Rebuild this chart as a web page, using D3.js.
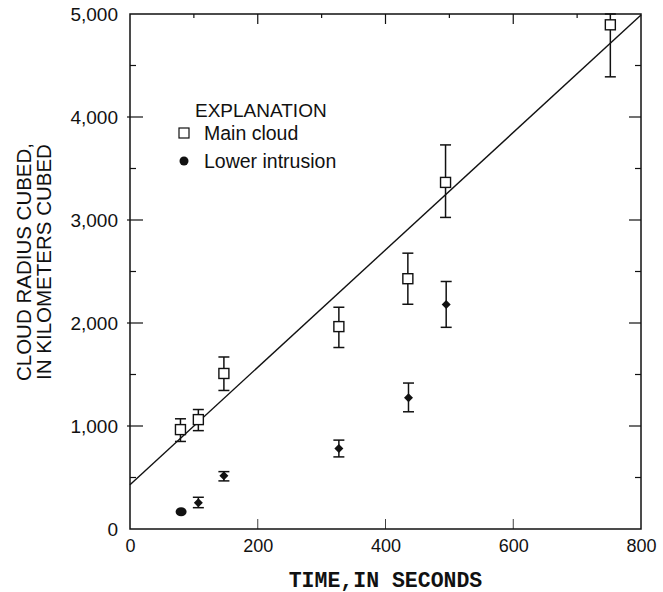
<!DOCTYPE html>
<html>
<head>
<meta charset="utf-8">
<script src="https://cdn.jsdelivr.net/npm/d3@7"></script>
<style>
  body { margin: 0; background: #fff; }
  svg text { font-family: "Liberation Sans", Arial, sans-serif; fill: #111; }
</style>
</head>
<body>
<div class="chart"></div>
<script>
// main cloud (open squares) with error bars
var mainTime = [79, 107, 147, 327, 435, 494, 752];
var mainValue = [965, 1062, 1510, 1965, 2430, 3365, 4895];
var mainLow = [850, 955, 1345, 1762, 2182, 3025, 4390];
var mainHigh = [1070, 1160, 1670, 2153, 2678, 3729, 5000];

// lower intrusion (filled), first point has no error bar
var lowerTime = [80, 107, 147, 327, 436, 495];
var lowerValue = [168, 256, 516, 781, 1274, 2179];
var lowerLow = [null, 207, 467, 700, 1138, 1958];
var lowerHigh = [null, 308, 557, 863, 1417, 2403];

// fitted line
var fitTime = [0, 800];
var fitValue = [430, 4990];

var xTicks = [0, 200, 400, 600, 800];
var yTicks = [0, 1000, 2000, 3000, 4000, 5000];

var width = 663, height = 592;
var plotLeft = 130, plotRight = 641, plotTop = 14, plotBottom = 529;

var svg = d3.select('.chart').append('svg')
  .attr('width', width).attr('height', height);

var xScale = d3.scaleLinear().domain([0, 800]).range([plotLeft, plotRight]);
var yScale = d3.scaleLinear().domain([0, 5000]).range([plotBottom, plotTop]);

var ink = '#111';

// frame
svg.append('rect')
  .attr('x', plotLeft).attr('y', plotTop)
  .attr('width', plotRight - plotLeft).attr('height', plotBottom - plotTop)
  .attr('fill', 'none').attr('stroke', ink).attr('stroke-width', 1.5);

// bottom axis (labels + small inward ticks)
var xAxis = d3.axisBottom(xScale).tickValues(xTicks).tickSize(0).tickPadding(10)
  .tickFormat(d3.format(','));
var xg = svg.append('g').attr('transform', 'translate(0,' + plotBottom + ')').call(xAxis);
xg.select('.domain').remove();
xg.selectAll('text').style('font-size', '18px');

svg.selectAll('.xtickb').data([200, 400, 600]).enter().append('line')
  .attr('x1', function(d){ return xScale(d); }).attr('x2', function(d){ return xScale(d); })
  .attr('y1', plotBottom).attr('y2', plotBottom - 10)
  .attr('stroke', ink).attr('stroke-width', 0.8);

// top ticks: 200s long, 100s short
svg.selectAll('.xtickt').data(d3.range(100, 800, 100)).enter().append('line')
  .attr('x1', function(d){ return xScale(d); }).attr('x2', function(d){ return xScale(d); })
  .attr('y1', plotTop).attr('y2', function(d){ return plotTop + (d % 200 === 0 ? 10 : 4); })
  .attr('stroke', ink).attr('stroke-width', 1.2);

// left axis
var yAxis = d3.axisLeft(yScale).tickValues(yTicks).tickSize(0).tickPadding(12)
  .tickFormat(d3.format(','));
var yg = svg.append('g').attr('transform', 'translate(' + plotLeft + ',0)').call(yAxis);
yg.select('.domain').remove();
yg.selectAll('text').style('font-size', '19px');

svg.selectAll('.ytickl').data(d3.range(500, 5000, 500)).enter().append('line')
  .attr('x1', function(d){ return d % 1000 === 0 ? plotLeft - 3 : plotLeft; })
  .attr('x2', function(d){ return plotLeft + (d % 1000 === 0 ? 13 : 6); })
  .attr('y1', function(d){ return yScale(d); }).attr('y2', function(d){ return yScale(d); })
  .attr('stroke', ink).attr('stroke-width', 1.2);

// right ticks
svg.selectAll('.ytickr').data(d3.range(500, 5000, 500)).enter().append('line')
  .attr('x1', plotRight)
  .attr('x2', function(d){ return plotRight - (d % 1000 === 0 ? 12 : 6); })
  .attr('y1', function(d){ return yScale(d); }).attr('y2', function(d){ return yScale(d); })
  .attr('stroke', ink).attr('stroke-width', 1.2);

// axis titles
svg.append('text')
  .attr('x', (plotLeft + plotRight) / 2).attr('y', 587)
  .attr('text-anchor', 'middle')
  .style('font-family', '"Liberation Mono", "DejaVu Sans Mono", monospace')
  .style('font-weight', 'bold').style('font-size', '21.5px')
  .text('TIME,IN SECONDS');

var yTitle = svg.append('text')
  .attr('transform', 'translate(0,' + 262 + ') rotate(-90)')
  .attr('text-anchor', 'middle')
  .style('font-size', '20.5px');
yTitle.append('tspan').attr('x', 0).attr('y', 31).text('CLOUD RADIUS CUBED,');
yTitle.append('tspan').attr('x', 0).attr('y', 51).text('IN KILOMETERS CUBED');

// fit line
var line = d3.line()
  .x(function(d){ return xScale(d[0]); })
  .y(function(d){ return yScale(d[1]); });
svg.append('path')
  .datum(d3.zip(fitTime, fitValue))
  .attr('d', line)
  .attr('fill', 'none').attr('stroke', ink).attr('stroke-width', 1.4);

// error bars
function errorBars(times, lows, highs) {
  var g = svg.append('g').attr('stroke', ink).attr('stroke-width', 1.5);
  times.forEach(function(t, i) {
    if (lows[i] == null) return;
    var x = xScale(t);
    g.append('line').attr('x1', x).attr('x2', x)
      .attr('y1', yScale(lows[i])).attr('y2', yScale(highs[i]));
    [lows[i], highs[i]].forEach(function(v) {
      g.append('line').attr('x1', x - 5.5).attr('x2', x + 5.5)
        .attr('y1', yScale(v)).attr('y2', yScale(v));
    });
  });
}
errorBars(mainTime, mainLow, mainHigh);
errorBars(lowerTime, lowerLow, lowerHigh);

// main cloud squares
svg.selectAll('.sq').data(d3.zip(mainTime, mainValue)).enter().append('rect')
  .attr('x', function(d){ return xScale(d[0]) - 5; })
  .attr('y', function(d){ return yScale(d[1]) - 5; })
  .attr('width', 10).attr('height', 10)
  .attr('fill', '#fff').attr('stroke', ink).attr('stroke-width', 1.4);

// lower intrusion: first as dot, others as small diamonds
var lowerPts = d3.zip(lowerTime, lowerValue);
svg.selectAll('.lo').data(lowerPts).enter().append('path')
  .attr('transform', function(d){ return 'translate(' + xScale(d[0]) + ',' + yScale(d[1]) + ')'; })
  .attr('d', function(d, i){
    return i === 0 ? 'M-5.5,0A5.5,4.5 0 1,0 5.5,0A5.5,4.5 0 1,0 -5.5,0Z' : 'M0,-4.5L4.5,0L0,4.5L-4.5,0Z';
  })
  .attr('fill', ink);

// legend
svg.append('text').attr('x', 195).attr('y', 117).style('font-size', '19px').text('EXPLANATION');
svg.append('rect').attr('x', 179).attr('y', 128).attr('width', 10).attr('height', 10)
  .attr('fill', '#fff').attr('stroke', ink).attr('stroke-width', 1.2);
svg.append('text').attr('x', 204).attr('y', 140).style('font-size', '19.5px').text('Main cloud');
svg.append('circle').attr('cx', 184).attr('cy', 161).attr('r', 4.5).attr('fill', ink);
svg.append('text').attr('x', 204).attr('y', 168).style('font-size', '19.5px').text('Lower intrusion');
</script>
</body>
</html>
